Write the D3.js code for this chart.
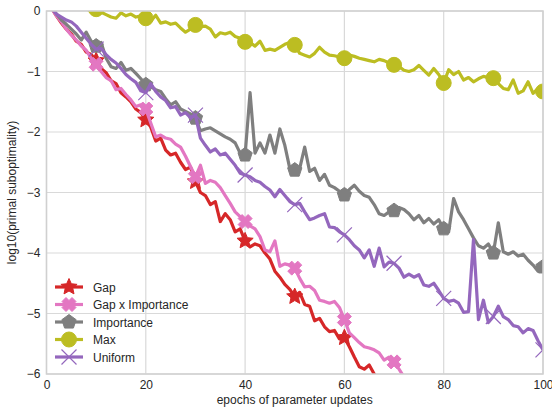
<!DOCTYPE html>
<html>
<head>
<meta charset="utf-8">
<script src="https://cdn.jsdelivr.net/npm/d3@7"></script>
<style>
  html, body { margin: 0; padding: 0; background: #fff; }
  svg { display: block; font-family: "Liberation Sans", Arial, sans-serif; }
</style>
</head>
<body>
<svg id="chart" width="552" height="407"></svg>
<script>
// log10(primal suboptimality) per epoch, one value per epoch starting at 0
const gap = [0.3, 0.05, -0.08, -0.2, -0.3, -0.38, -0.5, -0.55, -0.68, -0.72, -0.82,
  -0.95, -1.02, -1.15, -1.2, -1.35, -1.42, -1.5, -1.62, -1.68, -1.8,
  -1.92, -2.15, -2.1, -2.3, -2.38, -2.35, -2.5, -2.62, -2.58, -2.82,
  -3.0, -3.05, -3.2, -3.15, -3.48, -3.35, -3.45, -3.65, -3.6, -3.8,
  -3.9, -3.85, -3.88, -4.0, -4.1, -4.3, -4.4, -4.52, -4.6, -4.72,
  -4.65, -4.85, -4.88, -5.12, -5.08, -5.22, -5.3, -5.28, -5.42, -5.4,
  -5.55, -5.72, -5.88, -5.92, -5.85, -6.0, -6.1];

const gapImportance = [0.3, 0.05, -0.08, -0.18, -0.3, -0.4, -0.48, -0.58, -0.65, -0.78, -0.88,
  -1.0, -1.1, -1.15, -1.3, -1.28, -1.38, -1.47, -1.58, -1.55, -1.62,
  -1.85, -2.08, -2.05, -2.1, -2.12, -2.2, -2.25, -2.4, -2.57, -2.74,
  -2.55, -2.85, -2.8, -2.83, -2.92, -3.05, -3.18, -3.32, -3.4, -3.48,
  -3.55, -3.6, -3.73, -3.95, -3.98, -3.8, -4.22, -4.18, -4.2, -4.25,
  -4.42, -4.56, -4.55, -4.62, -4.78, -4.8, -4.83, -4.8, -4.9, -5.1,
  -5.32, -5.4, -5.48, -5.55, -5.57, -5.6, -5.65, -5.77, -5.72, -5.8,
  -5.92, -6.05, -6.1];

const importance = [0.3, 0.05, -0.05, -0.15, -0.22, -0.3, -0.38, -0.48, -0.35, -0.5, -0.58,
  -0.52, -0.78, -0.92, -0.95, -0.85, -0.98, -0.95, -1.03, -1.12, -1.22,
  -1.25, -1.3, -1.33, -1.45, -1.55, -1.5, -1.62, -1.66, -1.7, -1.77,
  -1.98, -1.95, -1.93, -1.98, -2.03, -2.08, -2.12, -2.18, -2.35, -2.38,
  -1.35, -2.35, -2.18, -2.35, -2.05, -2.35, -1.95, -2.22, -2.6, -2.63,
  -2.6, -2.25, -2.65, -2.6, -2.8, -2.7, -2.88, -2.92, -2.98, -3.04,
  -2.95, -2.88, -2.98, -3.05, -3.08, -3.2, -3.35, -3.38, -3.32, -3.3,
  -3.25, -3.28, -3.35, -3.45, -3.38, -3.5, -3.43, -3.52, -3.45, -3.6,
  -3.65, -3.1, -3.32, -3.45, -3.6, -3.75, -3.88, -3.92, -3.85, -4.0,
  -3.5, -3.98, -4.02, -3.98, -4.05, -4.02, -4.12, -4.2, -4.3, -4.23];

const maxRule = [0.6, 0.5, 0.45, 0.35, 0.3, 0.25, 0.15, 0.12, 0.05, -0.02, 0.03,
  -0.02, -0.06, -0.1, -0.12, -0.03, -0.08, -0.05, -0.1, -0.08, -0.12,
  -0.17, -0.07, -0.2, -0.18, -0.22, -0.2, -0.28, -0.35, -0.3, -0.23,
  -0.26, -0.25, -0.3, -0.43, -0.36, -0.38, -0.35, -0.42, -0.45, -0.51,
  -0.52, -0.58, -0.5, -0.65, -0.63, -0.65, -0.6, -0.55, -0.52, -0.56,
  -0.7, -0.73, -0.76, -0.7, -0.6, -0.68, -0.73, -0.74, -0.76, -0.78,
  -0.73, -0.75, -0.78, -0.8, -0.82, -0.84, -0.8, -0.82, -0.86, -0.89,
  -0.92, -0.98, -1.0, -0.97, -0.9, -0.98, -1.06, -0.95, -1.05, -1.19,
  -0.97, -1.05, -1.0, -1.14, -1.1, -1.17, -1.12, -1.08, -1.1, -1.11,
  -1.2, -1.28, -1.3, -1.14, -1.36, -1.32, -1.17, -1.36, -1.28, -1.33];

const uniform = [0.3, 0.05, -0.05, -0.1, -0.15, -0.18, -0.25, -0.35, -0.45, -0.55, -0.63,
  -0.62, -0.72, -0.8, -0.86, -0.95, -1.05, -1.12, -1.18, -1.32, -1.35,
  -1.2, -1.33, -1.42, -1.48, -1.6, -1.58, -1.72, -1.68, -1.76, -1.72,
  -2.1, -2.22, -2.33, -2.28, -2.38, -2.35, -2.45, -2.55, -2.68, -2.71,
  -2.74, -2.8, -2.83, -2.9, -2.96, -3.07, -2.95, -3.05, -3.15, -3.2,
  -3.18, -3.32, -3.45, -3.42, -3.38, -3.35, -3.57, -3.58, -3.65, -3.7,
  -3.78, -3.88, -3.95, -4.08, -3.95, -4.22, -3.92, -4.23, -4.15, -4.17,
  -4.25, -4.4, -4.35, -4.4, -4.36, -4.53, -4.55, -4.5, -4.62, -4.75,
  -4.8, -4.78, -4.83, -4.98, -4.97, -3.78, -5.1, -4.78, -5.15, -5.05,
  -4.88, -5.05, -5.1, -5.2, -5.22, -5.32, -5.25, -5.28, -5.45, -5.6];

const seriesNames = ["Gap", "Gap x Importance", "Importance", "Max", "Uniform"];
const seriesValues = [gap, gapImportance, importance, maxRule, uniform];
const seriesColors = ["#d62728", "#e377c2", "#7f7f7f", "#bcbd22", "#9467bd"];
const seriesMarkers = ["star", "xfilled", "pentagon", "circle", "xthin"];

const xTicks = [0, 20, 40, 60, 80, 100];
const yTicks = [0, -1, -2, -3, -4, -5, -6];
const markEvery = 10;

const svg = d3.select("#chart");
const margin = { left: 46.5, right: 9, top: 11, bottom: 33 };
const W = 552, H = 407;

const x = d3.scaleLinear().domain([0, 100]).range([margin.left, W - margin.right]);
const y = d3.scaleLinear().domain([-6, 0]).range([H - margin.bottom, margin.top]);

// marker shapes, centred on the origin
function markerPath(kind) {
  const p = d3.path();
  if (kind === "star") {
    const R = 8.5, r = 4;
    for (let i = 0; i < 10; i++) {
      const a = -Math.PI / 2 + i * Math.PI / 5;
      const rr = i % 2 === 0 ? R : r;
      if (i === 0) p.moveTo(rr * Math.cos(a), rr * Math.sin(a));
      else p.lineTo(rr * Math.cos(a), rr * Math.sin(a));
    }
    p.closePath();
  } else if (kind === "pentagon") {
    const R = 7.5;
    for (let i = 0; i < 5; i++) {
      const a = -Math.PI / 2 + i * 2 * Math.PI / 5;
      if (i === 0) p.moveTo(R * Math.cos(a), R * Math.sin(a));
      else p.lineTo(R * Math.cos(a), R * Math.sin(a));
    }
    p.closePath();
  } else if (kind === "circle") {
    p.arc(0, 0, 7.5, 0, 2 * Math.PI);
  } else if (kind === "xfilled") {
    // filled diagonal cross with broad arms
    const a = 7, w = 4;
    const pts = [[-a + w, -a], [0, -w], [a - w, -a], [a, -a + w], [w, 0], [a, a - w],
      [a - w, a], [0, w], [-a + w, a], [-a, a - w], [-w, 0], [-a, -a + w]];
    pts.forEach((q, i) => i === 0 ? p.moveTo(q[0], q[1]) : p.lineTo(q[0], q[1]));
    p.closePath();
  } else if (kind === "xthin") {
    const a = 7.5;
    p.moveTo(-a, -a); p.lineTo(a, a);
    p.moveTo(-a, a); p.lineTo(a, -a);
  }
  return p.toString();
}

function drawMarker(g, kind, color, cx, cy) {
  const m = g.append("path")
    .attr("d", markerPath(kind))
    .attr("transform", `translate(${cx},${cy})`);
  if (kind === "xthin") {
    m.attr("fill", "none").attr("stroke", color).attr("stroke-width", 1.2);
  } else {
    m.attr("fill", color).attr("stroke", color).attr("stroke-width", 1)
      .attr("stroke-linejoin", "round");
  }
}

// clip region for the plot area
svg.append("defs").append("clipPath").attr("id", "plotClip")
  .append("rect")
  .attr("x", x(0)).attr("y", y(0))
  .attr("width", x(100) - x(0)).attr("height", y(-6) - y(0));

// grid
const grid = svg.append("g");
grid.selectAll("line.v").data(xTicks).join("line")
  .attr("x1", d => x(d)).attr("x2", d => x(d))
  .attr("y1", y(0)).attr("y2", y(-6))
  .attr("stroke", "#d9d9d9").attr("stroke-width", 1.2);
grid.selectAll("line.h").data(yTicks).join("line")
  .attr("x1", x(0)).attr("x2", x(100))
  .attr("y1", d => y(d)).attr("y2", d => y(d))
  .attr("stroke", "#d9d9d9").attr("stroke-width", 1.2);

// axes (labels only, no tick marks)
const fmt = d => d < 0 ? "\u2212" + Math.abs(d) : String(d);
const xAxis = svg.append("g")
  .attr("transform", `translate(0,${y(-6)})`)
  .call(d3.axisBottom(x).tickValues(xTicks).tickSize(0).tickPadding(6).tickFormat(fmt));
const yAxis = svg.append("g")
  .attr("transform", `translate(${x(0)},0)`)
  .call(d3.axisLeft(y).tickValues(yTicks).tickSize(0).tickPadding(6).tickFormat(fmt));
[xAxis, yAxis].forEach(a => {
  a.select(".domain").remove();
  a.selectAll("text").attr("font-size", 12).attr("fill", "#262626")
    .attr("font-family", "Liberation Sans, Arial, sans-serif");
});

// series
const plot = svg.append("g").attr("clip-path", "url(#plotClip)");
const line = d3.line().x((d, i) => x(i)).y(d => y(d));
seriesValues.forEach((vals, s) => {
  const g = plot.append("g");
  g.append("path")
    .attr("d", line(vals))
    .attr("fill", "none")
    .attr("stroke", seriesColors[s])
    .attr("stroke-width", 3.2)
    .attr("stroke-linejoin", "round");
  vals.forEach((v, i) => {
    if (i % markEvery === 0) drawMarker(g, seriesMarkers[s], seriesColors[s], x(i), y(v));
  });
});

// frame
svg.append("rect")
  .attr("x", x(0)).attr("y", y(0))
  .attr("width", x(100) - x(0)).attr("height", y(-6) - y(0))
  .attr("fill", "none").attr("stroke", "#d0d0d0").attr("stroke-width", 1.5);

// axis titles
svg.append("text")
  .attr("x", (x(0) + x(100)) / 2).attr("y", 404)
  .attr("text-anchor", "middle").attr("font-size", 12).attr("fill", "#262626")
  .text("epochs of parameter updates");
svg.append("text")
  .attr("transform", `translate(16,${(y(0) + y(-6)) / 2}) rotate(-90)`)
  .attr("text-anchor", "middle").attr("font-size", 12).attr("fill", "#262626")
  .text("log10(primal suboptimality)");

// legend
const legend = svg.append("g").attr("transform", "translate(55,287)");
seriesNames.forEach((name, s) => {
  const row = legend.append("g").attr("transform", `translate(0,${s * 17.5})`);
  row.append("line").attr("x1", 0).attr("x2", 28).attr("y1", 0).attr("y2", 0)
    .attr("stroke", seriesColors[s]).attr("stroke-width", 3.2);
  drawMarker(row, seriesMarkers[s], seriesColors[s], 14, 0);
  row.append("text").attr("x", 38).attr("y", 4.5)
    .attr("font-size", 12).attr("fill", "#262626").text(name);
});
</script>
</body>
</html>
